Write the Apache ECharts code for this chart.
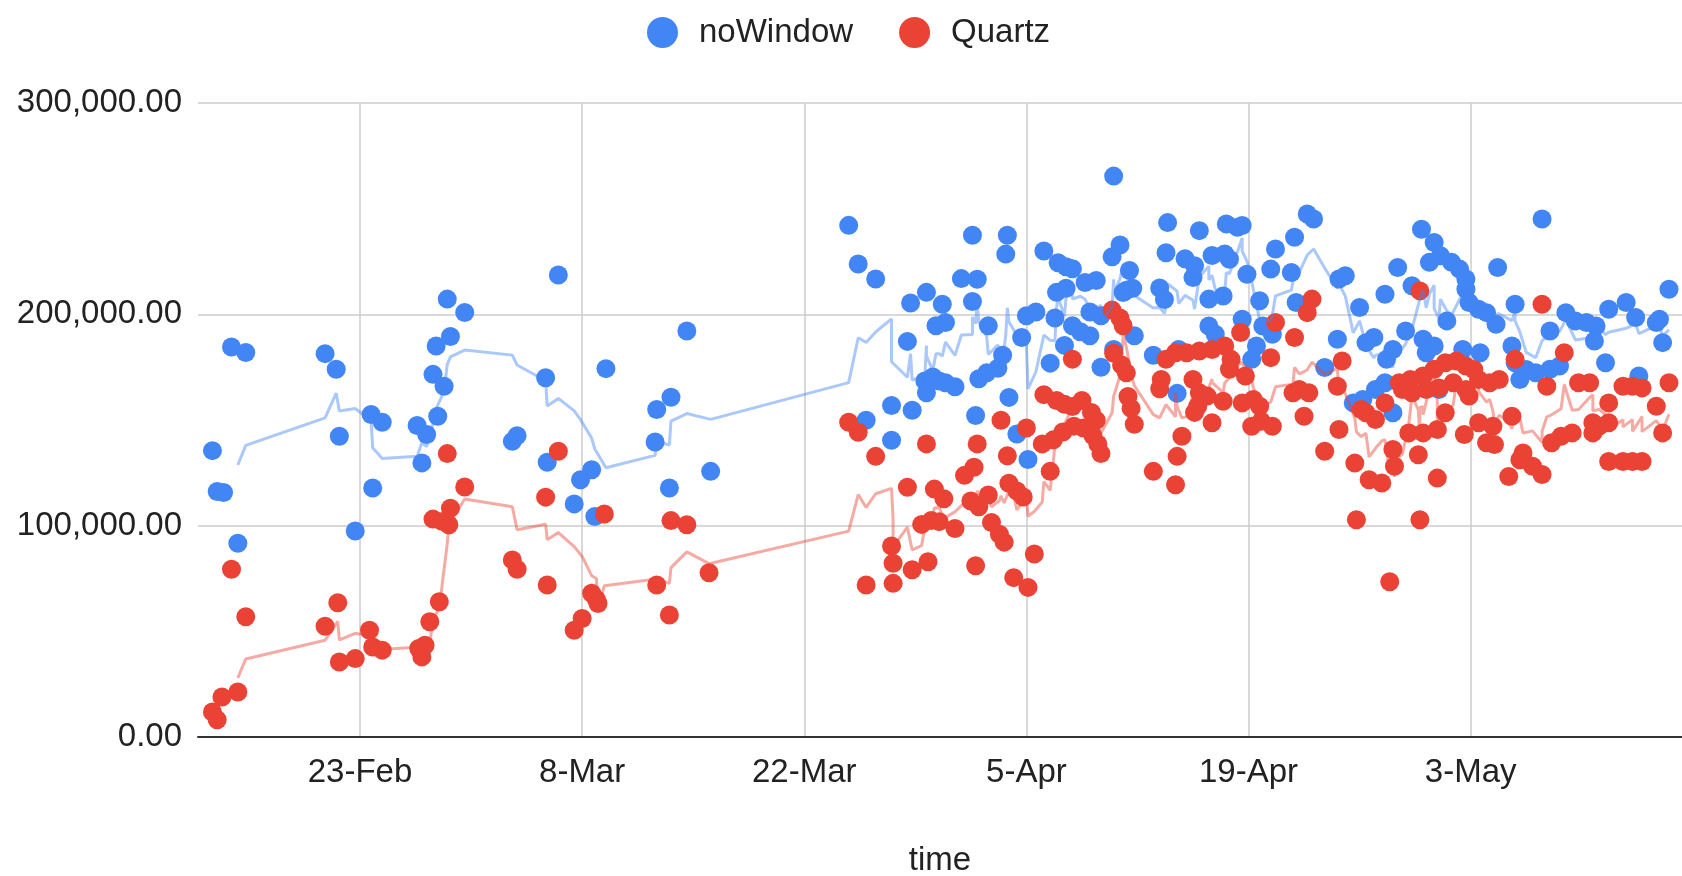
<!DOCTYPE html>
<html>
<head>
<meta charset="utf-8">
<title>noWindow vs Quartz</title>
<script src="https://cdn.jsdelivr.net/npm/echarts@6/dist/echarts.min.js"></script>
<style>
  html, body { margin: 0; padding: 0; background: #fff; }
  #chart { width: 1682px; height: 876px; }
</style>
</head>
<body>
<div id="chart"></div>
<script>
// x = days since 1 Feb 2020 (fractional), y = measured value
const noWindowDay = [
  12.7, 13.0, 13.4, 13.9, 14.3, 14.8, 19.8, 20.5, 20.7, 21.7, 22.7, 22.8, 23.4, 25.6, 25.9, 26.2,
  26.6, 26.8, 26.9, 27.3, 27.5, 27.7, 28.6, 31.6, 31.9, 33.7, 33.8, 34.5, 35.5, 35.9, 36.6, 36.8,
  37.5, 40.6, 40.7, 41.5, 41.6, 42.6, 44.1, 52.8, 53.4, 53.9, 54.5, 55.5, 55.5, 56.5, 56.7, 56.8,
  57.6, 57.7, 57.7, 58.1, 58.3, 58.5, 58.7, 58.9, 58.9, 59.5, 59.9, 60.6, 60.6, 60.8, 60.9, 61.0,
  61.5, 61.6, 62.2, 62.5, 62.7, 62.8, 62.9, 63.4, 63.7, 64.0, 64.1, 64.6, 65.1, 65.5, 65.8, 65.9,
  66.0, 66.4, 66.5, 66.5, 66.9, 66.9, 67.4, 67.7, 68.0, 68.0, 68.4, 68.7, 68.7, 69.4, 69.5, 69.5,
  69.9, 70.1, 70.3, 70.5, 70.7, 70.8, 72.0, 72.4, 72.7, 72.8, 72.9, 73.5, 73.6, 74.0, 74.5, 74.6,
  74.9, 75.5, 75.5, 75.7, 75.9, 76.4, 76.5, 76.6, 76.8, 77.3, 77.6, 77.6, 77.9, 78.2, 78.5, 78.7,
  78.9, 79.4, 79.5, 79.7, 80.7, 80.9, 81.0, 81.7, 82.1, 82.8, 83.6, 83.7, 84.1, 84.6, 85.0, 85.2,
  85.4, 85.9, 86.0, 86.6, 86.6, 86.7, 87.1, 87.1, 87.4, 87.9, 88.3, 88.9, 89.0, 89.2, 89.4, 89.7,
  89.7, 90.0, 90.1, 90.5, 90.8, 91.3, 91.5, 91.7, 91.7, 91.9, 92.5, 92.6, 93.0, 93.6, 93.7, 94.6,
  94.8, 94.8, 95.1, 95.5, 96.1, 96.5, 97.0, 97.0, 97.6, 98.0, 98.6, 99.3, 99.8, 99.9, 100.5, 100.7,
  101.8, 102.4, 102.6, 103.7, 103.9, 104.1, 104.5
];
const noWindowValue = [
  135500, 116200, 115700, 184500, 91700, 181900, 181400, 174000, 142300, 97500, 152600, 117800, 148900, 147400, 129700, 143100,
  171600, 185000, 151800, 166000, 207200, 189500, 200900, 139900, 142600, 170000, 130000, 218600, 110300, 121700, 126500, 104300,
  174300, 139600, 155000, 117800, 160800, 192100, 125700, 242100, 223800, 149900, 216700, 156900, 140400, 187200, 205400, 154600,
  168500, 210400, 162900, 170400, 194600, 168500, 204800, 196100, 167600, 165700, 216900, 206100, 237400, 152100, 216600, 169500,
  172300, 194600, 174500, 180600, 228500, 237400, 160700, 143400, 189000, 199300, 131300, 201100, 230000, 176900, 198300, 210400,
  224400, 185300, 222500, 212300, 221600, 194600, 191800, 215100, 189900, 201100, 216000, 199300, 175000, 227200, 265400, 183400,
  232800, 210300, 211400, 220700, 212300, 189900, 180600, 212500, 207000, 229100, 243400, 162600, 183400, 226300, 217400, 223000,
  239600, 207200, 194500, 227800, 190600, 208700, 228600, 242800, 226100, 241200, 242000, 197700, 219000, 178700, 185000, 206400,
  194500, 221400, 190600, 230900, 219800, 236500, 205600, 247500, 245100, 174800, 188200, 216700, 218300, 158100, 203200, 159700,
  186600, 189000, 164400, 209500, 167600, 178700, 153400, 183400, 222200, 192100, 213500, 240300, 188200, 181800, 224600, 234000,
  185000, 164400, 227700, 196900, 224600, 221400, 183400, 216700, 211900, 205600, 202400, 181800, 200800, 195300, 222200, 185000,
  204800, 177100, 169200, 173900, 172400, 245100, 192100, 174000, 175500, 200800, 196900, 196100, 187400, 194500, 177100, 202400,
  205600, 198500, 170800, 196100, 197700, 186600, 211900
];

const quartzDay = [
  12.7, 13.0, 13.3, 13.9, 14.3, 14.8, 19.8, 20.6, 20.7, 21.7, 22.6, 22.8, 23.4, 25.7, 25.9, 26.1,
  26.4, 26.6, 27.0, 27.2, 27.5, 27.6, 27.7, 28.6, 31.6, 31.9, 33.7, 33.8, 34.5, 35.5, 36.0, 36.6,
  36.9, 37.0, 37.4, 40.7, 41.5, 41.6, 42.6, 44.0, 52.8, 53.4, 53.9, 54.5, 55.5, 55.6, 55.6, 56.5,
  56.8, 57.4, 57.7, 57.8, 58.0, 58.2, 58.5, 58.8, 59.5, 60.1, 60.5, 60.7, 60.8, 60.9, 61.0, 61.6,
  61.8, 62.3, 62.4, 62.6, 62.8, 62.9, 63.2, 63.4, 63.8, 64.0, 64.1, 64.5, 65.0, 65.1, 65.5, 65.7,
  65.9, 66.3, 66.4, 66.9, 66.9, 67.0, 67.5, 67.6, 68.1, 68.2, 68.4, 68.5, 68.7, 69.4, 69.5, 69.9,
  70.0, 70.1, 70.3, 70.4, 70.6, 70.8, 72.0, 72.4, 72.5, 72.8, 73.4, 73.4, 73.5, 73.8, 74.1, 74.5,
  74.6, 74.8, 74.9, 74.9, 75.4, 75.7, 75.7, 76.4, 76.5, 76.8, 76.9, 77.5, 77.6, 77.8, 78.2, 78.3,
  78.7, 78.8, 79.4, 79.5, 79.7, 80.8, 80.9, 81.2, 81.5, 81.7, 81.8, 82.0, 82.8, 83.6, 83.7, 83.9,
  84.7, 84.8, 85.1, 85.4, 85.6, 86.0, 86.4, 86.6, 86.9, 87.1, 87.2, 87.5, 87.7, 88.1, 88.2, 88.3,
  88.7, 88.8, 88.8, 89.0, 89.0, 89.2, 89.7, 89.9, 89.9, 90.0, 90.4, 90.4, 90.9, 91.1, 91.6, 91.7,
  91.7, 91.9, 92.2, 92.5, 92.5, 93.0, 93.2, 93.4, 93.5, 93.8, 94.4, 94.6, 94.8, 95.1, 95.3, 95.9,
  96.5, 96.5, 96.8, 97.1, 97.7, 97.9, 98.4, 98.8, 99.5, 99.7, 99.7, 100.1, 100.7, 100.7, 100.7, 101.6,
  101.6, 102.2, 102.2, 102.8, 102.8, 103.7, 104.1, 104.5
];
const quartzValue = [
  11800, 8200, 18900, 79400, 21300, 56900, 52400, 63500, 35500, 37100, 50500, 42600, 41100, 41900, 37900, 43400,
  54500, 103100, 64000, 102000, 134100, 100400, 108300, 118300, 83800, 79400, 113500, 71900, 135200, 50500, 56100, 68000,
  65100, 63200, 105500, 71900, 57700, 102400, 100400, 77700, 148900, 144200, 71900, 132800, 90400, 72700, 82200, 118200,
  79100, 100600, 138700, 82900, 102400, 117300, 101900, 112700, 98700, 123800, 111700, 127600, 81000, 138700, 108900, 114500,
  101500, 95900, 149900, 92200, 133100, 120100, 75400, 116400, 113600, 146200, 70800, 86600, 138700, 162000, 125700, 140600,
  159200, 144300, 157400, 178800, 156400, 147100, 159200, 146200, 153600, 142500, 149900, 138700, 134100, 202000, 181600, 198300,
  176000, 194600, 172300, 161100, 155500, 148000, 125700, 164800, 169200, 178700, 119400, 181800, 132800, 142300, 181800, 169200,
  153600, 156500, 182600, 162900, 161300, 183400, 148700, 158900, 185000, 174000, 178700, 191400, 158100, 170800, 147000, 159700,
  156500, 149400, 179500, 147000, 196100, 162900, 189000, 164400, 151800, 200800, 162900, 207200, 135200, 166000, 145500, 177900,
  129600, 102800, 155000, 153400, 121700, 150200, 120200, 158100, 73500, 136000, 128100, 167600, 164400, 143900, 169200, 162900,
  133600, 102800, 211100, 170800, 143900, 164400, 174000, 145500, 122500, 165200, 177100, 153400, 167600, 177900, 143100, 175500,
  164400, 161300, 173900, 169200, 148700, 139200, 167600, 147100, 138400, 169200, 123300, 151800, 178700, 131200, 134400, 128100,
  124200, 204800, 166000, 139200, 142300, 181800, 143900, 167600, 167600, 148700, 143900, 147100, 148700, 158100, 130400, 166000,
  130400, 166000, 130400, 165200, 130400, 156500, 143900, 167600
];

// tick positions, in days since 1 Feb 2020
const tickDays = [22, 36, 50, 64, 78, 92];
const tickLabels = ['23-Feb', '8-Mar', '22-Mar', '5-Apr', '19-Apr', '3-May'];

const xMinDay = 11.79;
const xMaxDay = 105.32;

function toPoints(days, values) {
  return days
    .map((d, i) => [d, values[i]])
    .sort((a, b) => a[0] - b[0]);
}

// trailing moving average, like the sheet's trendline
function movingAverage(pts, period) {
  const out = [];
  for (let i = period - 1; i < pts.length; i++) {
    let sum = 0;
    for (let j = i - period + 1; j <= i; j++) sum += pts[j][1];
    out.push([pts[i][0], sum / period]);
  }
  return out;
}

const noWindowPts = toPoints(noWindowDay, noWindowValue);
const quartzPts = toPoints(quartzDay, quartzValue);

const font = 'Arial, "Liberation Sans", sans-serif';
const blue = '#4285F4';
const red = '#EA4335';

const chart = echarts.init(document.getElementById('chart'));
chart.setOption({
  animation: false,
  backgroundColor: '#fff',
  textStyle: { fontFamily: font },
  legend: {
    data: ['noWindow', 'Quartz'],
    left: 642,
    top: 11,
    icon: 'circle',
    itemWidth: 31,
    itemHeight: 31,
    itemGap: 46,
    textStyle: { fontSize: 33, color: '#222', fontFamily: font, padding: [0, 0, 0, 16] }
  },
  grid: { left: 198, right: 0, top: 103, bottom: 139, containLabel: false, outerBoundsMode: 'none' },
  xAxis: {
    type: 'value',
    min: xMinDay,
    max: xMaxDay,
    name: 'time',
    nameLocation: 'middle',
    nameGap: 107,
    nameTextStyle: { fontSize: 33, color: '#222', fontFamily: font },
    axisLine: { show: true, onZero: false, lineStyle: { color: '#333', width: 2 } },
    axisTick: { show: false, customValues: tickDays },
    axisLabel: {
      customValues: tickDays,
      fontSize: 33,
      color: '#222',
      margin: 19,
      formatter: (v) => {
        const i = tickDays.indexOf(Math.round(v));
        return i >= 0 ? tickLabels[i] : '';
      }
    },
    splitLine: { show: true, lineStyle: { color: '#cccccc', width: 1.5 } }
  },
  yAxis: {
    type: 'value',
    min: 0,
    max: 300000,
    interval: 100000,
    axisLine: { show: false },
    axisTick: { show: false },
    axisLabel: {
      fontSize: 33,
      color: '#222',
      margin: 16,
      padding: [7, 0, 0, 0],
      formatter: (v) => v.toLocaleString('en-US', { minimumFractionDigits: 2, maximumFractionDigits: 2 })
    },
    splitLine: { lineStyle: { color: '#cccccc', width: 1.5 } }
  },
  series: [
    {
      name: 'noWindow',
      type: 'scatter',
      data: noWindowPts,
      symbolSize: 19,
      itemStyle: { color: blue, opacity: 1 },
      z: 2
    },
    {
      name: 'Quartz',
      type: 'scatter',
      data: quartzPts,
      symbolSize: 19,
      itemStyle: { color: red, opacity: 1 },
      z: 3
    },
    {
      name: 'noWindow trend',
      type: 'line',
      data: movingAverage(noWindowPts, 5),
      showSymbol: false,
      silent: true,
      lineStyle: { color: blue, width: 3, opacity: 0.45 },
      z: 4
    },
    {
      name: 'Quartz trend',
      type: 'line',
      data: movingAverage(quartzPts, 5),
      showSymbol: false,
      silent: true,
      lineStyle: { color: red, width: 3, opacity: 0.45 },
      z: 4
    }
  ]
});
</script>
</body>
</html>
